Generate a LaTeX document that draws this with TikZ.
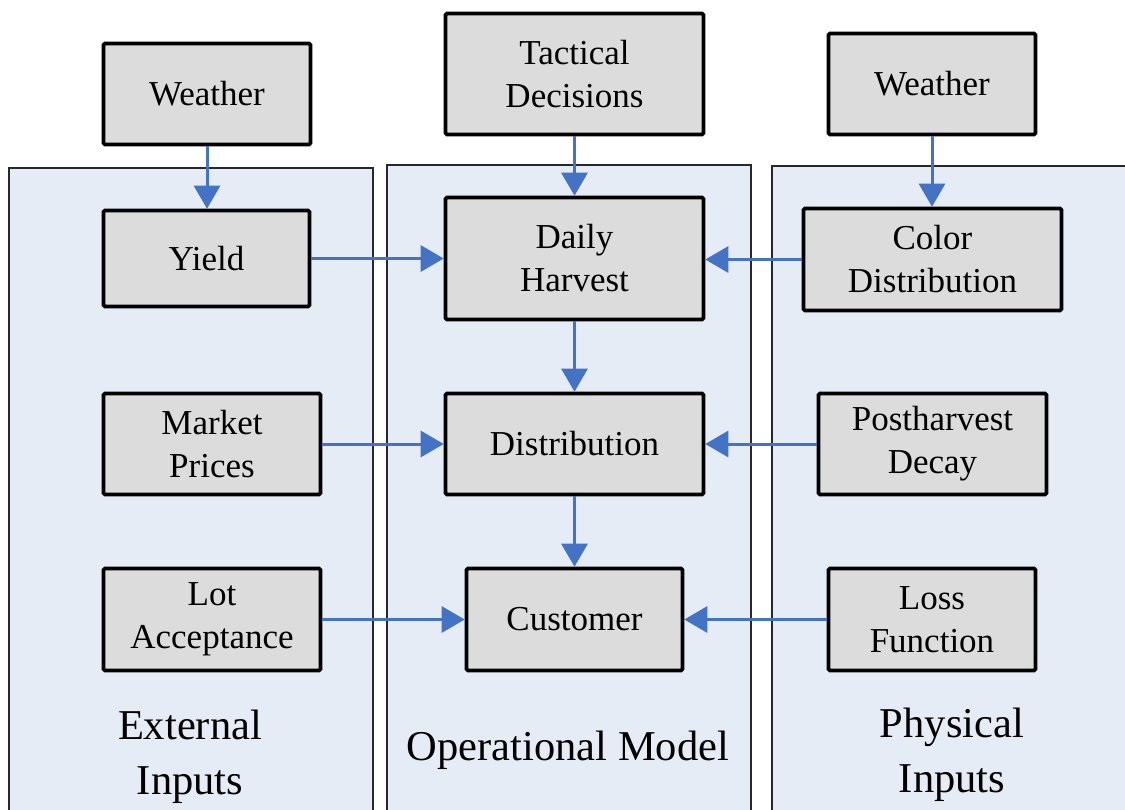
\documentclass[tikz,border=0pt]{standalone}
\usepackage{fontspec}
\setmainfont{Liberation Serif}
\usetikzlibrary{arrows.meta}
\definecolor{panelblue}{RGB}{230,236,246}
\definecolor{boxgray}{RGB}{220,220,220}
\definecolor{arrowblue}{RGB}{68,114,196}
\definecolor{paneledge}{RGB}{40,40,40}
\tikzset{
  panel/.style={draw=paneledge, line width=1.8pt, fill=panelblue},
  box/.style={draw=black, line width=3.6pt, fill=boxgray, rounded corners=1.5pt,
    inner sep=0pt, align=center, font=\fontsize{35}{43}\selectfont},
  flow/.style={draw=arrowblue, line width=3pt, -{Triangle[length=23pt,width=26pt]}},
  paneltitle/.style={align=center, font=\fontsize{42.5}{55}\selectfont, inner sep=0pt}
}
\begin{document}
\begin{tikzpicture}[x=1pt,y=-1pt]
\useasboundingbox (0,0) rectangle (1125,809);
\clip (0,0) rectangle (1125,809);
% panels
\path[panel] (9,168) rectangle (373,830);
\path[panel] (387,165) rectangle (751,830);
\path[panel] (772,166) rectangle (1140,830);
% boxes
\node[box, minimum width=207pt, minimum height=101pt] (w1) at (207,94) {Weather};
\node[box, minimum width=258pt, minimum height=121pt] (tac) at (574.5,74) {Tactical\\Decisions};
\node[box, minimum width=207pt, minimum height=101pt] (w2) at (932,84) {Weather};
\node[box, minimum width=206pt, minimum height=96pt] (yield) at (206.5,258.5) {Yield};
\node[box, minimum width=258pt, minimum height=122pt] (dh) at (574.5,258.5) {Daily\\Harvest};
\node[box, minimum width=258pt, minimum height=102pt] (cd) at (932.5,259.5) {Color\\Distribution};
\node[box, minimum width=217pt, minimum height=101pt] (mp) at (212,444) {Market\\Prices};
\node[box, minimum width=258pt, minimum height=101pt] (dist) at (574.5,444) {Distribution};
\node[box, minimum width=228pt, minimum height=101pt] (phd) at (932.5,444) {Postharvest\\Decay};
\node[box, minimum width=217pt, minimum height=102pt] (lot) at (212,619.5) {Lot\\Acceptance};
\node[box, minimum width=216pt, minimum height=102pt] (cust) at (574.5,619.5) {Customer};
\node[box, minimum width=207pt, minimum height=102pt] (loss) at (932,619.5) {Loss\\Function};
% panel titles
\node[paneltitle] (ext) at (190,757) {External\\Inputs};
\node[paneltitle] (op) at (568,750) {Operational Model};
\node[paneltitle] (phys) at (952,755) {Physical\\Inputs};
% connectors
\draw[flow] (w1.south) -- (w1.south |- yield.north);
\draw[flow] (tac.south) -- (dh.north);
\draw[flow] (w2.south) -- (w2.south |- cd.north);
\draw[flow] (yield.east) -- (yield.east -| dh.west);
\draw[flow] (cd.west) -- (cd.west -| dh.east);
\draw[flow] (dh.south) -- (dist.north);
\draw[flow] (mp.east) -- (dist.west);
\draw[flow] (phd.west) -- (dist.east);
\draw[flow] (dist.south) -- (cust.north);
\draw[flow] (lot.east) -- (cust.west);
\draw[flow] (loss.west) -- (cust.east);
\end{tikzpicture}
\end{document}
